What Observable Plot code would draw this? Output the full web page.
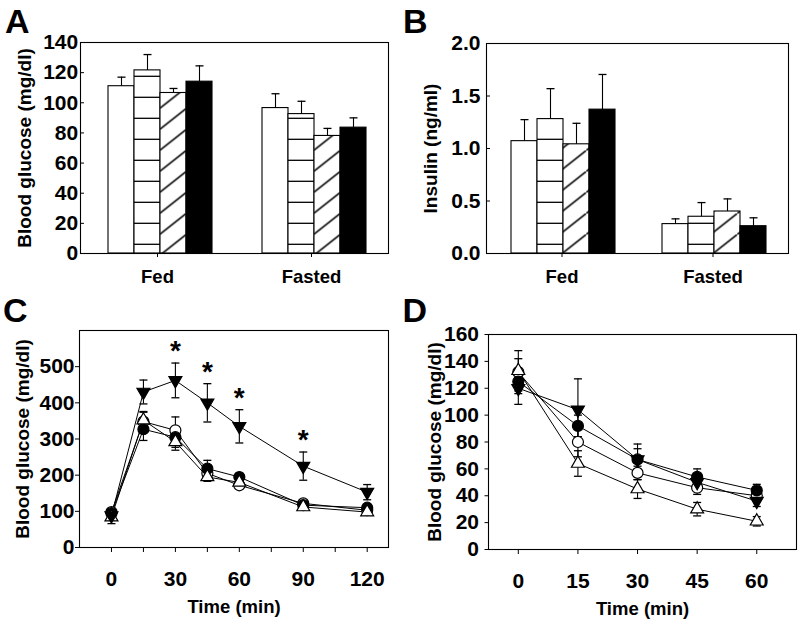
<!DOCTYPE html>
<html><head><meta charset="utf-8">
<script src="https://cdn.jsdelivr.net/npm/d3@7"></script>
<script src="https://cdn.jsdelivr.net/npm/@observablehq/plot@0.6"></script>
<style>
html,body{margin:0;padding:0;background:#fff;}
#root{position:relative;width:799px;height:625px;overflow:hidden;font-family:"Liberation Sans",Arial,sans-serif;background:#fff;}
.panel{position:absolute;}
.letter{position:absolute;font-weight:bold;font-size:34px;line-height:34px;color:#000;font-family:"Liberation Sans",Arial,sans-serif;}
</style></head><body>
<svg width="0" height="0" style="position:absolute">
  <defs>
    <pattern id="hlines" patternUnits="userSpaceOnUse" width="10" height="21">
      <rect width="10" height="21" fill="white"/>
      <line x1="0" x2="10" y1="13.3" y2="13.3" stroke="black" stroke-width="1.3"/>
    </pattern>
    <pattern id="hatch" patternUnits="userSpaceOnUse" width="26.6" height="21" patternTransform="translate(0,3.5)">
      <rect width="26.6" height="21" fill="white"/>
      <line x1="-2.66" y1="23.1" x2="29.26" y2="-2.1" stroke="#000" stroke-width="1.6"/>
    </pattern>
  </defs>
</svg>
<div id="root"></div>
<script>
// ---------- Panels A & B ----------
const conditions = ["Fed", "Fasted"];
const groupNames = ["Group 1", "Group 2", "Group 3", "Group 4"];
const glucoseFed = [111, 121.5, 106.5, 114];
const glucoseFedSem = [6, 10.5, 3, 10.5];
const glucoseFasted = [96.5, 92.5, 78, 83.5];
const glucoseFastedSem = [9.5, 8.5, 5, 6.5];
const glucoseTicks = [0, 20, 40, 60, 80, 100, 120, 140];
const insulinFed = [1.07, 1.28, 1.04, 1.37];
const insulinFedSem = [0.205, 0.29, 0.2, 0.335];
const insulinFasted = [0.28, 0.35, 0.40, 0.26];
const insulinFastedSem = [0.05, 0.135, 0.12, 0.08];
const insulinTicks = [0, 0.5, 1, 1.5, 2];

// ---------- Panel C (glucose tolerance) ----------
const gttTimes = [0, 15, 30, 45, 60, 90, 120];
const gttOpenCircle = [98, 348, 324, 205, 172, 122, 103];
const gttOpenCircleSem = [10, 28, 37, 15, 10, 8, 8];
const gttFilledCircle = [95, 327, 305, 218, 195, 117, 110];
const gttFilledCircleSem = [10, 31, 28, 23, 10, 8, 8];
const gttOpenTriangle = [84, 352, 292, 195, 180, 112, 98];
const gttOpenTriangleSem = [18, 22, 23, 12, 10, 6, 6];
const gttFilledTriangle = [88, 430, 462, 400, 335, 225, 153];
const gttFilledTriangleSem = [12, 33, 48, 53, 46, 39, 21];
const gttSignificant = [30, 45, 60, 90];
const gttTimeTicks = [0, 15, 30, 45, 60, 75, 90, 105, 120];
const gttTimeLabels = [0, 30, 60, 90, 120];
const gttGlucoseTicks = [0, 100, 200, 300, 400, 500];

// ---------- Panel D (insulin tolerance) ----------
const ittTimes = [0, 15, 30, 45, 60];
const ittOpenCircle = [132, 80, 57, 46, 40];
const ittOpenCircleSem = [10, 11, 5, 5, 3];
const ittFilledCircle = [125, 92, 67, 54, 44];
const ittFilledCircleSem = [9, 8, 11.5, 6, 4.5];
const ittOpenTriangle = [133, 64, 45, 30, 21];
const ittOpenTriangleSem = [15, 9.5, 7, 5, 3.5];
const ittFilledTriangle = [120, 104, 67, 50, 36];
const ittFilledTriangleSem = [12, 23, 8, 6, 4];
const ittTimeTicks = [0, 15, 30, 45, 60];
const ittGlucoseTicks = [0, 20, 40, 60, 80, 100, 120, 140, 160];

// ---------- styling ----------
const baseStyle = {fontFamily: '"Liberation Sans", Arial, sans-serif', fontSize: "18px", fontWeight: "bold", color: "black", background: "white", overflow: "visible"};
const tickFont = 21;
const titleFont = 19;
const barFills = {"Group 1": "white", "Group 2": "url(#hlines)", "Group 3": "url(#hatch)", "Group 4": "black"};
const capSymbol = {draw(ctx) { ctx.moveTo(-4, 0); ctx.lineTo(4, 0); }};
const seriesOrder = ["openCircle", "filledCircle", "openTriangle", "filledTriangle"];
const seriesStyle = {
  openCircle: {symbol: "circle", fill: "white", r: 5.5, rotate: 0},
  filledCircle: {symbol: "circle", fill: "black", r: 5.5, rotate: 0},
  openTriangle: {symbol: "triangle", fill: "white", r: 4.8, rotate: 0},
  filledTriangle: {symbol: "triangle", fill: "black", r: 4.8, rotate: 180}
};

function barRows(fed, fedSem, fasted, fastedSem) {
  const rows = [];
  groupNames.forEach((g, i) => {
    rows.push({condition: "Fed", group: g, value: fed[i], sem: fedSem[i]});
    rows.push({condition: "Fasted", group: g, value: fasted[i], sem: fastedSem[i]});
  });
  return rows;
}

function lineRows(times, seriesMap) {
  const rows = [];
  for (const key of seriesOrder) {
    const [vals, sems] = seriesMap[key];
    times.forEach((t, i) => rows.push({series: key, t, v: vals[i], sem: sems[i]}));
  }
  return rows;
}

function barPanel(o) {
  const rows = o.rows;
  return Plot.plot({
    width: o.width, height: 300,
    marginLeft: o.marginLeft, marginRight: o.marginRight, marginTop: o.marginTop, marginBottom: 47,
    style: baseStyle,
    fx: {domain: conditions, padding: 0, label: null},
    x: {domain: groupNames, paddingInner: 0, paddingOuter: o.groupPadding, align: o.align, axis: null},
    y: {domain: o.yDomain, label: null},
    marks: [
      ...groupNames.map(g => Plot.barY(rows, {filter: d => d.group === g, fx: "condition", x: "group", y: "value", fill: barFills[g], stroke: "black", strokeWidth: 1.1})),
      Plot.ruleX(rows, {fx: "condition", x: "group", y1: "value", y2: d => d.value + d.sem, stroke: "black", strokeWidth: 1.1}),
      Plot.dot(rows, {fx: "condition", x: "group", y: d => d.value + d.sem, symbol: capSymbol, stroke: "black", fill: "none", strokeWidth: 1.3}),
      Plot.frame({facet: "super", stroke: "black", strokeWidth: 1.1}),
      Plot.axisY({ticks: o.yTicks, tickFormat: o.yFormat, tickSize: -4, tickPadding: o.tickPadding, fontSize: tickFont, label: null}),
      Plot.text([o.label], {facet: "super", frameAnchor: "left", rotate: -90, textAnchor: "middle", lineAnchor: "top", dx: -o.labelOffset, fontSize: titleFont}),
      Plot.axisFx({anchor: "bottom", tickSize: 4, tickPadding: 12, fontSize: 18.5, label: null})
    ]
  });
}

function linePanel(o) {
  const rows = o.rows;
  const sigRows = rows.filter(d => d.series === "filledTriangle" && (o.significant || []).includes(d.t));
  return Plot.plot({
    width: o.width, height: 325,
    marginLeft: o.marginLeft, marginRight: o.marginRight, marginTop: o.marginTop, marginBottom: o.marginBottom,
    style: baseStyle,
    x: {domain: o.xDomain, label: null},
    y: {domain: o.yDomain, label: null},
    marks: [
      Plot.frame({stroke: "black", strokeWidth: 1.1}),
      Plot.axisY({ticks: o.yTicks, tickSize: o.yTickSize, tickPadding: o.yTickPadding, fontSize: tickFont, label: null}),
      Plot.axisX({ticks: o.xTicks, tickFormat: o.xFormat, tickSize: 5, tickPadding: o.xTickPadding, fontSize: tickFont, label: null}),
      Plot.text([o.yLabel], {frameAnchor: "left", rotate: -90, textAnchor: "middle", lineAnchor: "top", dx: o.yLabelDx, fontSize: titleFont}),
      Plot.text(["Time (min)"], {frameAnchor: "bottom", textAnchor: "middle", dy: o.xLabelDy, lineAnchor: "top", fontSize: 18.5}),
      Plot.line(rows, {x: "t", y: "v", z: "series", stroke: "black", strokeWidth: 1}),
      Plot.ruleX(rows, {x: "t", y1: d => d.v - d.sem, y2: d => d.v + d.sem, stroke: "black", strokeWidth: 1.1}),
      Plot.dot(rows, {x: "t", y: d => d.v + d.sem, symbol: capSymbol, stroke: "black", fill: "none", strokeWidth: 1.3}),
      Plot.dot(rows, {x: "t", y: d => d.v - d.sem, symbol: capSymbol, stroke: "black", fill: "none", strokeWidth: 1.3}),
      ...seriesOrder.map(s => Plot.dot(rows, {filter: d => d.series === s, x: "t", y: "v", symbol: seriesStyle[s].symbol, r: seriesStyle[s].r, rotate: seriesStyle[s].rotate, fill: seriesStyle[s].fill, stroke: "black", strokeWidth: 1.2})),
      Plot.text(sigRows, {x: "t", y: d => d.v + d.sem, text: () => "*", dy: -12, fontSize: 28, lineAnchor: "middle"})
    ]
  });
}

const root = document.getElementById("root");
function place(node, left, top) {
  const div = document.createElement("div");
  div.className = "panel";
  div.style.left = left + "px";
  div.style.top = top + "px";
  div.appendChild(node);
  root.appendChild(div);
}
function letter(txt, left, top) {
  const div = document.createElement("div");
  div.className = "letter";
  div.style.left = left + "px";
  div.style.top = top + "px";
  div.textContent = txt;
  root.appendChild(div);
}

place(barPanel({
  rows: barRows(glucoseFed, glucoseFedSem, glucoseFasted, glucoseFastedSem),
  width: 400, marginLeft: 80, marginRight: 12, marginTop: 42,
  groupPadding: 0.879, align: 0.56,
  yDomain: [0, 140], yTicks: glucoseTicks, yFormat: d3.format("d"), tickPadding: 6.3,
  label: "Blood glucose (mg/dl)", labelOffset: 63
}), 0, 0);

place(barPanel({
  rows: barRows(insulinFed, insulinFedSem, insulinFasted, insulinFastedSem),
  width: 399, marginLeft: 86, marginRight: 11, marginTop: 43,
  groupPadding: 0.806, align: 0.53,
  yDomain: [0, 2], yTicks: insulinTicks, yFormat: d3.format(".1f"), tickPadding: 10,
  label: "Insulin (ng/ml)", labelOffset: 63
}), 400, 0);

place(linePanel({
  rows: lineRows(gttTimes, {
    openCircle: [gttOpenCircle, gttOpenCircleSem],
    filledCircle: [gttFilledCircle, gttFilledCircleSem],
    openTriangle: [gttOpenTriangle, gttOpenTriangleSem],
    filledTriangle: [gttFilledTriangle, gttFilledTriangleSem]
  }),
  significant: gttSignificant,
  width: 400, marginLeft: 79, marginRight: 12, marginTop: 30, marginBottom: 78,
  xDomain: [-15, 130], yDomain: [0, 600],
  xTicks: gttTimeTicks, xFormat: d => gttTimeLabels.includes(d) ? String(d) : "",
  yTicks: gttGlucoseTicks, yTickSize: 4, yTickPadding: 1, xTickPadding: 19,
  yLabel: "Blood glucose (mg/dl)", yLabelDx: -64, xLabelDy: 52
}), 0, 300);

place(linePanel({
  rows: lineRows(ittTimes, {
    openCircle: [ittOpenCircle, ittOpenCircleSem],
    filledCircle: [ittFilledCircle, ittFilledCircleSem],
    openTriangle: [ittOpenTriangle, ittOpenTriangleSem],
    filledTriangle: [ittFilledTriangle, ittFilledTriangleSem]
  }),
  significant: [],
  width: 399, marginLeft: 88, marginRight: 3, marginTop: 34, marginBottom: 76,
  xDomain: [-7.5, 70], yDomain: [0, 160],
  xTicks: ittTimeTicks, xFormat: d => String(d),
  yTicks: ittGlucoseTicks, yTickSize: 3.5, yTickPadding: 6, xTickPadding: 19,
  yLabel: "Blood glucose (mg/dl)", yLabelDx: -61, xLabelDy: 52
}), 400, 300);

letter("A", 5, 3.5);
letter("B", 403, 3.5);
letter("C", 3, 293);
letter("D", 402.5, 293);
</script>
</body></html>
